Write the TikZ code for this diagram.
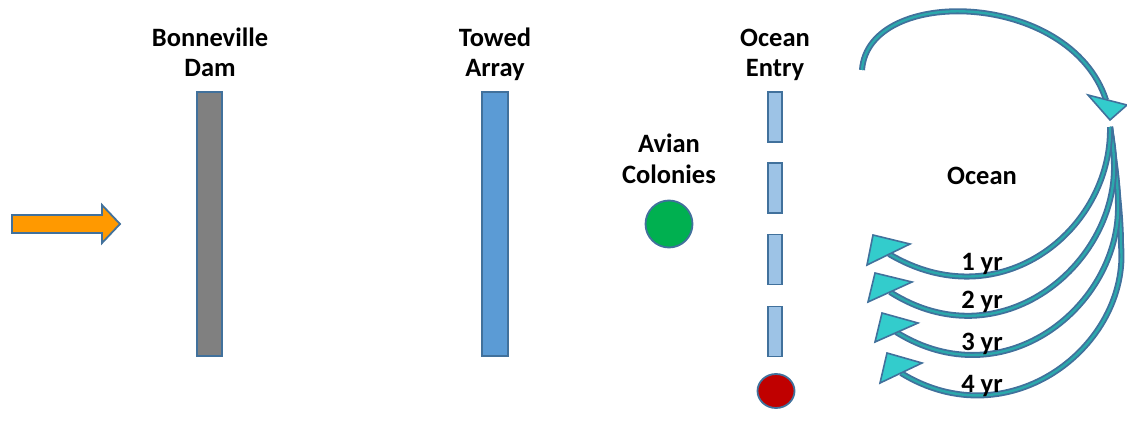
\documentclass[tikz,border=0pt]{standalone}
\usepackage{fontspec}
\setmainfont{Carlito}
\usetikzlibrary{shapes.geometric}
\definecolor{outl}{HTML}{41719C}
\definecolor{tealf}{HTML}{33CCCC}
\definecolor{teald}{HTML}{2BA8AC}
\definecolor{barg}{HTML}{808080}
\definecolor{barb}{HTML}{5B9BD5}
\definecolor{barl}{HTML}{9DC3E6}
\definecolor{grn}{HTML}{00B050}
\definecolor{redc}{HTML}{C00000}
\definecolor{orng}{HTML}{FF9900}
\begin{document}
\begin{tikzpicture}[x=1pt,y=-1pt,
  lbl/.style={font=\bfseries\fontsize{26.5}{30}\selectfont, anchor=base, inner sep=0pt},
  bar/.style={rectangle, draw=outl, line width=1.8pt, inner sep=0pt},
  dot/.style={ellipse, draw=outl, line width=1.8pt, inner sep=0pt},
  shaftout/.style={draw=outl, line width=6pt},
  shaftin/.style={draw=teald, line width=2.4pt},
  head/.style={fill=tealf, draw=outl, line width=1.6pt, line join=miter}]
\useasboundingbox (0,0) rectangle (1127,422);

% vertical bars
\node[bar, fill=barg, minimum width=25pt, minimum height=264pt] (dam) at (209.5,224) {};
\node[bar, fill=barb, minimum width=26pt, minimum height=264pt] (towed) at (495,224) {};
\node[bar, fill=barl, minimum width=14pt, minimum height=50pt] (e1) at (775,117) {};
\node[bar, fill=barl, minimum width=14pt, minimum height=50pt] (e2) at (775,188) {};
\node[bar, fill=barl, minimum width=14pt, minimum height=50pt] (e3) at (775,259.5) {};
\node[bar, fill=barl, minimum width=14pt, minimum height=50pt] (e4) at (775,331.5) {};

% circles
\node[dot, fill=grn, minimum width=47pt, minimum height=47pt] (avian) at (669,224) {};
\node[dot, fill=redc, minimum width=37pt, minimum height=34pt] (red) at (776,391) {};

% orange input arrow
\draw[fill=orng, draw=outl, line width=1.8pt, line join=miter]
  (12,215) -- (102,215) -- (102,205) -- (120,224) -- (102,243) -- (102,233) -- (12,233) -- cycle;

% top curved arrow
\coordinate (ts) at (862,70);
\coordinate (te) at (1106,100);
\draw[shaftout] (ts) .. controls (868,-15) and (1070,-10) .. (te);
\draw[shaftin] (ts) .. controls (868,-15) and (1070,-10) .. (te);
\draw[head] (1110,120) -- (1088,95) -- (1127,105) -- cycle;

% return arcs
\coordinate (s1) at (1110,127);
\coordinate (s2) at (1114,165);
\coordinate (s3) at (1118,205);
\coordinate (s4) at (1121,245);
\coordinate (a1) at (889,254);
\coordinate (a2) at (890,292);
\coordinate (a3) at (896,332);
\coordinate (a4) at (901,373);
\foreach \ca/\cb/\s/\pa/\pb/\e in {
  {(1116,175)}/{(1121,215)}/s4/{(1130,345)}/{(1010,440)}/a4,
  {(1114,160)}/{(1118,180)}/s3/{(1120,305)}/{(1005,400)}/a3,
  {(1112,140)}/{(1114,150)}/s2/{(1116,265)}/{(1000,362)}/a2}{
  \draw[shaftout] (s1) .. controls \ca and \cb .. (\s) .. controls \pa and \pb .. (\e);
  \draw[shaftin] (s1) .. controls \ca and \cb .. (\s) .. controls \pa and \pb .. (\e);
}
\draw[shaftout] (s1) .. controls (1112,230) and (1000,320) .. (a1);
\draw[shaftin] (s1) .. controls (1112,230) and (1000,320) .. (a1);
\draw[head] (873,235) -- (867,265) -- (910,244) -- cycle;
\draw[head] (875,273) -- (868,302) -- (912,282) -- cycle;
\draw[head] (882,313) -- (875,342) -- (918,323) -- cycle;
\draw[head] (887,353) -- (880,383) -- (922,363) -- cycle;

% labels
\node[lbl] (l1a) at (210,47) {Bonneville};
\node[lbl] (l1b) at (210,77) {Dam};
\node[lbl] (l2a) at (495,47) {Towed};
\node[lbl] (l2b) at (495,77) {Array};
\node[lbl] (l3a) at (775,47) {Ocean};
\node[lbl] (l3b) at (775,77) {Entry};
\node[lbl] (l4a) at (669,153) {Avian};
\node[lbl] (l4b) at (669,184) {Colonies};
\node[lbl] (l5) at (982,185) {Ocean};
\node[lbl] (y1) at (982,270) {1 yr};
\node[lbl] (y2) at (982,308) {2 yr};
\node[lbl] (y3) at (982,350) {3 yr};
\node[lbl] (y4) at (982,392) {4 yr};
\end{tikzpicture}
\end{document}
